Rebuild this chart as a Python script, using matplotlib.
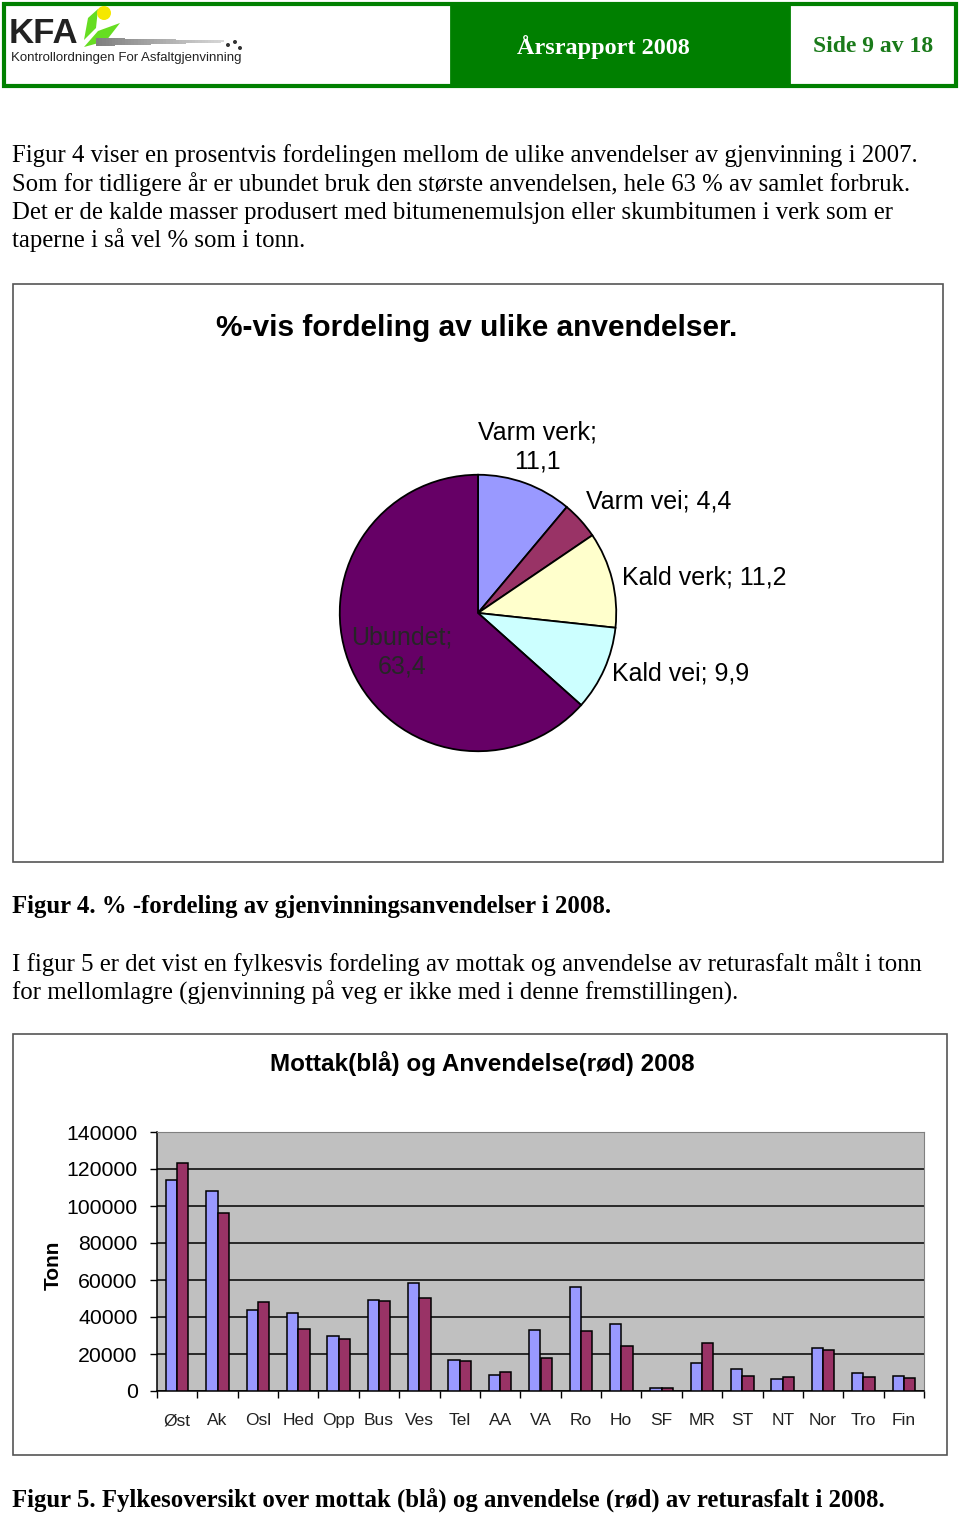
import numpy as np
import matplotlib
matplotlib.use("Agg")
import matplotlib.pyplot as plt
from matplotlib.patches import Rectangle, Polygon, Circle

# Data for the pie chart (Figur 4)
pie_labels = ["Varm verk", "Varm vei", "Kald verk", "Kald vei", "Ubundet"]
pie_values = [11.1, 4.4, 11.2, 9.9, 63.4]
pie_colors = ["#9999FF", "#993366", "#FFFFCC", "#CCFFFF", "#660066"]

# Data for the bar chart (Figur 5)
fylker = ["Øst", "Ak", "Osl", "Hed", "Opp", "Bus", "Ves", "Tel", "AA", "VA",
          "Ro", "Ho", "SF", "MR", "ST", "NT", "Nor", "Tro", "Fin"]
mottak = [114000, 108000, 43800, 42200, 29600, 49200, 58300, 16900, 8800, 33000,
          56200, 36100, 1800, 14900, 11700, 6300, 23300, 10000, 7900]
anvendelse = [123000, 96000, 48100, 33400, 28200, 48600, 50300, 16300, 10400, 17600,
              32500, 24400, 1800, 26000, 7900, 7700, 22300, 7700, 7200]
y_ticks = [0, 20000, 40000, 60000, 80000, 100000, 120000, 140000]

W, H = 960, 1514
fig = plt.figure(figsize=(W / 100, H / 100), dpi=100)

# page axes in pixel coordinates
page = fig.add_axes([0, 0, 1, 1])
page.set_xlim(0, W)
page.set_ylim(H, 0)
page.axis("off")

serif = "Liberation Serif"
sans = "Liberation Sans"
green = "#008000"
body_fs = 17.8

# --- header ---
page.add_patch(Rectangle((4, 4), 952, 82, facecolor="white", edgecolor=green, lw=3))
page.add_patch(Rectangle((451, 4), 338, 82, facecolor="#007F00", edgecolor=green, lw=2))
page.text(603, 47, "Årsrapport 2008", color="white", fontsize=17.5, fontweight="bold",
          family=serif, ha="center", va="center")
page.text(873, 47, "Side 9 av 18", color="#1a7a1a", fontsize=17, fontweight="bold",
          family=serif, ha="center", va="center")

# logo (simplified)
page.text(9, 43, "KFA", fontsize=25, fontweight="bold", family=sans, color="#222222",
          va="baseline")
page.add_patch(Polygon([[84, 40], [88, 18], [98, 9], [96, 28]], closed=True,
                       facecolor="#66dd22", edgecolor="none"))
page.add_patch(Polygon([[84, 47], [98, 31], [120, 23], [106, 41]], closed=True,
                       facecolor="#66dd22", edgecolor="none"))
page.add_patch(Circle((104, 13), 7, facecolor="#f5e800", edgecolor="none"))
for i in range(40):
    g = 0.5 + 0.35 * i / 40
    page.add_patch(Rectangle((96 + i * 3.2, 38 + i * 0.06), 3.3, 8 - i * 0.15,
                             facecolor=(g, g, g), edgecolor="none"))
for dx, dy in [(228, 45), (235, 42), (240, 48)]:
    page.add_patch(Circle((dx, dy), 2, facecolor="#333333", edgecolor="none"))
page.text(11, 61, "Kontrollordningen For Asfaltgjenvinning", fontsize=9.5, family=sans,
          color="#222222", va="baseline")

# --- paragraphs ---
para1 = [
    "Figur 4 viser en prosentvis fordelingen mellom de ulike anvendelser av gjenvinning i 2007.",
    "Som for tidligere år er ubundet bruk den største anvendelsen, hele 63 % av samlet forbruk.",
    "Det er de kalde masser produsert med bitumenemulsjon eller skumbitumen i verk som er",
    "taperne i så vel % som i tonn.",
]
for i, line in enumerate(para1):
    page.text(12, 162 + i * 28.5, line, fontsize=body_fs, family=serif, va="baseline")

page.text(12, 913, "Figur 4. % -fordeling av gjenvinningsanvendelser i 2008.",
          fontsize=body_fs, fontweight="bold", family=serif, va="baseline")

para2 = [
    "I figur 5 er det vist en fylkesvis fordeling av mottak og anvendelse av returasfalt målt i tonn",
    "for mellomlagre (gjenvinning på veg er ikke med i denne fremstillingen).",
]
for i, line in enumerate(para2):
    page.text(12, 971 + i * 28.5, line, fontsize=body_fs, family=serif, va="baseline")

page.text(12, 1507, "Figur 5. Fylkesoversikt over mottak (blå) og anvendelse (rød) av returasfalt i 2008.",
          fontsize=body_fs, fontweight="bold", family=serif, va="baseline")

# --- pie chart frame ---
page.add_patch(Rectangle((13, 284), 930, 578, facecolor="white", edgecolor="#555555", lw=1.2))
page.text(477, 328, "%-vis fordeling av ulike anvendelser.", fontsize=21.5,
          fontweight="bold", family=sans, ha="center", va="center")

cx, cy, r = 478, 613, 141
ax_pie = fig.add_axes([(cx - r) / W, 1 - (cy + r) / H, 2 * r / W, 2 * r / H])
ax_pie.pie(pie_values, colors=pie_colors, startangle=90, counterclock=False,
           wedgeprops=dict(edgecolor="black", linewidth=1.3))
ax_pie.set_aspect("equal")
ax_pie.set_xlim(-1.02, 1.02)
ax_pie.set_ylim(-1.02, 1.02)

def fmt(v):
    return f"{v:.1f}".replace(".", ",")

lab_fs = 18
page.text(537, 447, f"{pie_labels[0]};\n{fmt(pie_values[0])}", fontsize=lab_fs, family=sans,
          ha="center", va="center", linespacing=1.25)
page.text(586, 501, f"{pie_labels[1]}; {fmt(pie_values[1])}", fontsize=lab_fs, family=sans,
          ha="left", va="center")
page.text(622, 577, f"{pie_labels[2]}; {fmt(pie_values[2])}", fontsize=lab_fs, family=sans,
          ha="left", va="center")
page.text(612, 673, f"{pie_labels[3]}; {fmt(pie_values[3])}", fontsize=lab_fs, family=sans,
          ha="left", va="center")
# label inside the dark slice, drawn on the pie axes so it sits above the wedge
ax_pie.text(402, 652, f"{pie_labels[4]};\n{fmt(pie_values[4])}", fontsize=lab_fs, family=sans,
            ha="center", va="center", color="#262626", linespacing=1.25,
            transform=page.transData, zorder=5)

# --- bar chart frame ---
page.add_patch(Rectangle((13, 1034), 934, 421, facecolor="white", edgecolor="#555555", lw=1.2))
page.text(482, 1064, "Mottak(blå) og Anvendelse(rød) 2008", fontsize=17.5,
          fontweight="bold", family=sans, ha="center", va="center")
page.text(53, 1265, "Tonn", fontsize=15, fontweight="bold", family=sans,
          ha="center", va="center", rotation=90)

x0, x1, ytop, ybot = 157, 924, 1132, 1391
ax = fig.add_axes([x0 / W, 1 - ybot / H, (x1 - x0) / W, (ybot - ytop) / H])
ax.set_facecolor("#C0C0C0")
x = np.arange(len(fylker))
bw = 0.28
ax.bar(x - bw / 2, mottak, bw, color="#9999FF", edgecolor="black", linewidth=1.1, zorder=3)
ax.bar(x + bw / 2, anvendelse, bw, color="#993366", edgecolor="black", linewidth=1.1, zorder=3)
ax.set_xlim(-0.5, len(fylker) - 0.5)
ax.set_ylim(0, 140000)
ax.set_yticks(y_ticks)
ax.set_yticklabels([str(v) for v in y_ticks], fontsize=15.3, family=sans)
ax.yaxis.grid(True, color="black", linewidth=1.1, zorder=1)
ax.set_axisbelow(True)
ax.set_xticks(x)
ax.set_xticklabels(fylker, fontsize=12.5, color="#222222",
                   family=["Liberation Sans Narrow", "Liberation Sans"])
ax.set_xticks(np.arange(len(fylker) + 1) - 0.5, minor=True)
ax.tick_params(axis="x", which="major", length=0, pad=16)
ax.tick_params(axis="x", which="minor", length=5, width=1, color="black")
ax.tick_params(axis="y", length=5, width=1, pad=9)
for s in ["top", "right"]:
    ax.spines[s].set_color("#808080")
for s in ["left", "bottom"]:
    ax.spines[s].set_color("black")
    ax.spines[s].set_linewidth(1.1)

fig.savefig("out.png", dpi=100)
